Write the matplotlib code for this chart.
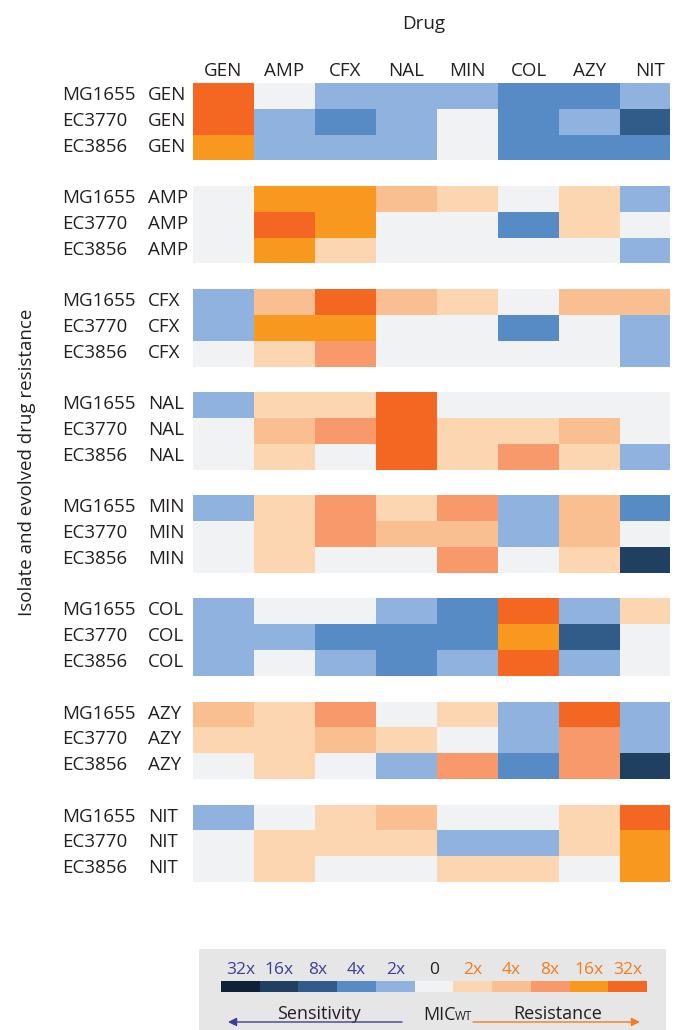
import numpy as np
import matplotlib
matplotlib.use("Agg")
import matplotlib.pyplot as plt
from matplotlib.colors import ListedColormap, BoundaryNorm
from matplotlib.patches import Rectangle
from matplotlib.transforms import blended_transform_factory

plt.rcParams['font.family'] = ['Open Sans', 'DejaVu Sans']

drugs = ["GEN", "AMP", "CFX", "NAL", "MIN", "COL", "AZY", "NIT"]
strains = ["MG1655", "EC3770", "EC3856"]

# log2 fold change in MIC relative to wild type, one block per evolved drug
gen = [[5, 0, -1, -1, -1, -2, -2, -1],
       [5, -1, -2, -1, 0, -2, -1, -3],
       [4, -1, -1, -1, 0, -2, -2, -2]]
amp = [[0, 4, 4, 2, 1, 0, 1, -1],
       [0, 5, 4, 0, 0, -2, 1, 0],
       [0, 4, 1, 0, 0, 0, 0, -1]]
cfx = [[-1, 2, 5, 2, 1, 0, 2, 2],
       [-1, 4, 4, 0, 0, -2, 0, -1],
       [0, 1, 3, 0, 0, 0, 0, -1]]
nal = [[-1, 1, 1, 5, 0, 0, 0, 0],
       [0, 2, 3, 5, 1, 1, 2, 0],
       [0, 1, 0, 5, 1, 3, 1, -1]]
mini = [[-1, 1, 3, 1, 3, -1, 2, -2],
        [0, 1, 3, 2, 2, -1, 2, 0],
        [0, 1, 0, 0, 3, 0, 1, -4]]
col = [[-1, 0, 0, -1, -2, 5, -1, 1],
       [-1, -1, -2, -2, -2, 4, -3, 0],
       [-1, 0, -1, -2, -1, 5, -1, 0]]
azy = [[2, 1, 3, 0, 1, -1, 5, -1],
       [1, 1, 2, 1, 0, -1, 3, -1],
       [0, 1, 0, -1, 3, -2, 3, -4]]
nit = [[-1, 0, 1, 2, 0, 0, 1, 5],
       [0, 1, 1, 1, -1, -1, 1, 4],
       [0, 1, 0, 0, 1, 1, 0, 4]]
blocks = [gen, amp, cfx, nal, mini, col, azy, nit]

palette = ["#0e213b", "#204062", "#315b89", "#568bc6", "#8fb3de", "#f1f2f4",
           "#fcd5b1", "#f9bf90", "#f7996a", "#f8981e", "#f46722"]
legend_labels = ["32x", "16x", "8x", "4x", "2x", "0", "2x", "4x", "8x", "16x", "32x"]

cmap = ListedColormap(palette)
norm = BoundaryNorm(np.arange(-5.5, 6.5, 1), cmap.N)

# stack blocks with an empty row between them
rows = []
labels = []
for i, (d, b) in enumerate(zip(drugs, blocks)):
    if i > 0:
        rows.append([np.nan] * len(drugs))
        labels.append(None)
    for s, r in zip(strains, b):
        rows.append(r)
        labels.append((s, d))
M = np.ma.masked_invalid(np.array(rows, dtype=float))

W, H = 675, 1030
fig = plt.figure(figsize=(W / 100, H / 100), dpi=100)

x0, x1, y0, y1 = 193, 670, 83, 882
ax = fig.add_axes([x0 / W, 1 - y1 / H, (x1 - x0) / W, (y1 - y0) / H])
ax.pcolormesh(np.arange(len(drugs) + 1), np.arange(len(rows) + 1), M,
              cmap=cmap, norm=norm)
ax.set_xlim(0, (x1 - x0) / 61.0)
ax.set_ylim(len(rows), 0)
ax.axis("off")

txt = "#231f20"
fs = 13.5
tr_rows = blended_transform_factory(fig.transFigure, ax.transData)
for k, lab in enumerate(labels):
    if lab is None:
        continue
    ax.text(62 / W, k + 0.66, lab[0], transform=tr_rows, ha="left", va="baseline",
            fontsize=fs, color=txt)
    ax.text(148 / W, k + 0.66, lab[1], transform=tr_rows, ha="left", va="baseline",
            fontsize=fs, color=txt)

tr_cols = blended_transform_factory(ax.transData, fig.transFigure)
for j, d in enumerate(drugs):
    ax.text(j + 0.5, 1 - 76 / H, d, transform=tr_cols, ha="center", va="baseline",
            fontsize=fs, color=txt)

fig.text(424 / W, 1 - 29 / H, "Drug", ha="center", va="baseline", fontsize=fs, color=txt)
fig.text(27 / W, 1 - 462 / H, "Isolate and evolved drug resistance", rotation=90,
         ha="center", va="center", fontsize=fs, color=txt)

# legend panel, drawn in pixel coordinates
lx0, lx1, ly0 = 199, 666, 949
lax = fig.add_axes([lx0 / W, 0, (lx1 - lx0) / W, (H - ly0) / H])
lax.set_xlim(lx0, lx1)
lax.set_ylim(H, ly0)
lax.set_facecolor("#e6e6e6")
lax.set_xticks([])
lax.set_yticks([])
for sp in lax.spines.values():
    sp.set_visible(False)

blue = "#3b3f96"
orange = "#f47b20"
bx0, bx1 = 221, 647
bw = (bx1 - bx0) / len(palette)
for i, (c, lab) in enumerate(zip(palette, legend_labels)):
    lax.add_patch(Rectangle((bx0 + i * bw, 981), bw, 11, facecolor=c, edgecolor="none"))
    lc = blue if i < 5 else (orange if i > 5 else txt)
    lax.text(bx0 + (i + 0.5) * bw, 974, lab, ha="center", va="baseline",
             fontsize=12.5, color=lc)

lax.text(319, 1019, "Sensitivity", ha="center", va="baseline", fontsize=13, color=txt)
lax.text(558, 1019, "Resistance", ha="center", va="baseline", fontsize=13, color=txt)
lax.text(423, 1020, "MIC", ha="left", va="baseline", fontsize=13, color=txt)
lax.text(455, 1020, "WT", ha="left", va="baseline", fontsize=8.5, color=txt)

lax.annotate("", xy=(228, 1022), xytext=(402, 1022),
             arrowprops=dict(arrowstyle="-|>,head_length=0.5,head_width=0.25",
                             color=blue, lw=1, shrinkA=0, shrinkB=0))
lax.annotate("", xy=(640, 1022), xytext=(473, 1022),
             arrowprops=dict(arrowstyle="-|>,head_length=0.5,head_width=0.25",
                             color=orange, lw=1, shrinkA=0, shrinkB=0))

fig.savefig("out.png", dpi=100)
